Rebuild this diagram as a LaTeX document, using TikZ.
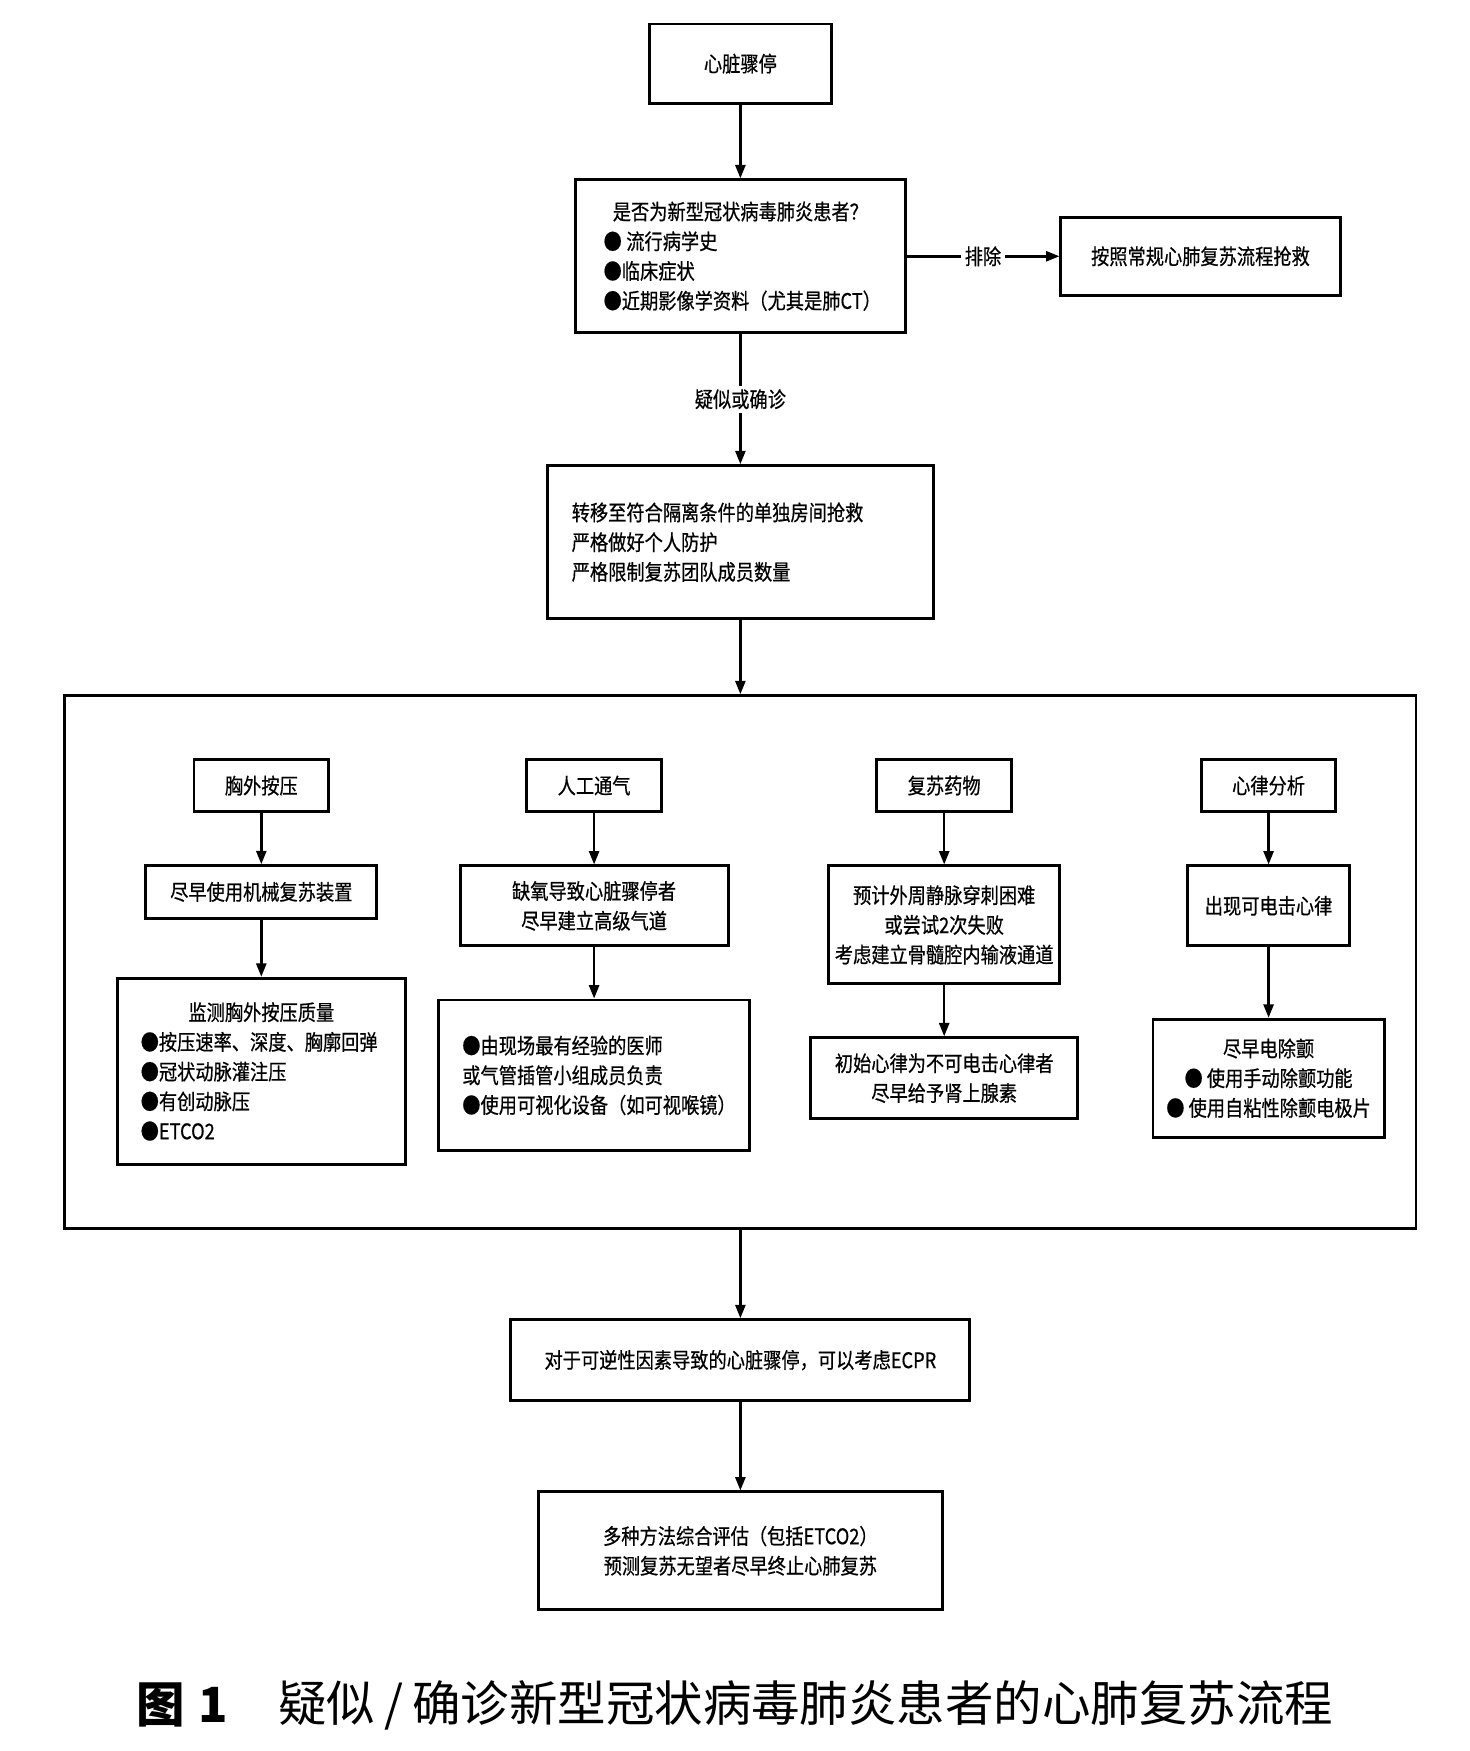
\documentclass[tikz,border=0pt]{standalone}
\usepackage{fontspec}
\newfontfamily\cjk[FakeStretch=0.85,FakeBold=0.6]{Noto Sans CJK SC}
\newfontfamily\cjkcap{Noto Sans CJK SC}
\usetikzlibrary{arrows.meta}
\newcommand\dtext{\cjk\fontsize{9.6}{13.3}\selectfont}
\tikzset{
  box/.style={draw, line width=1.3pt, inner sep=0pt, align=center, font=\dtext},
  lbox/.style={box, align=left},
  arr/.style={line width=1.1pt, -{Triangle[length=6pt,width=4.5pt]}},
  lbl/.style={fill=white, inner sep=1.5pt, font=\dtext},
  captxt/.style={inner sep=0pt, anchor=west, font=\cjkcap\fontsize{21.7}{26}\selectfont},
}
\begin{document}
\begin{tikzpicture}[x=0.5pt,y=-0.5pt]
\useasboundingbox (0,0) rectangle (1316,1568);
% main column
\node[box, minimum width=81.5pt, minimum height=35.5pt] (n1) at (663,57) {心脏骤停};
\node[lbox, text width=122.5pt, inner xsep=12.5pt, minimum height=68.5pt] (n2) at (663,229.5)
  {\makebox[122.5pt][c]{是否为新型冠状病毒肺炎患者？}\\●\hspace{2pt}流行病学史\\●临床症状\\●近期影像学资料（尤其是肺CT）};
\node[box, minimum width=125pt, minimum height=35pt] (n3) at (1075,229.5) {按照常规心肺复苏流程抢救};
\node[lbox, text width=151pt, inner xsep=11pt, minimum height=68.5pt] (n4) at (663,485.5)
  {转移至符合隔离条件的单独房间抢救\\严格做好个人防护\\严格限制复苏团队成员数量};
\node[draw, line width=1.3pt, inner sep=0pt, minimum width=605pt, minimum height=238.5pt] (big) at (663,861.5) {};
% column 1
\node[box, minimum width=60.25pt, minimum height=23.5pt] (c1a) at (234,703.5) {胸外按压};
\node[box, minimum width=103.5pt, minimum height=23.5pt] (c1b) at (234,798.7) {尽早使用机械复苏装置};
\node[lbox, text width=108pt, inner xsep=10.5pt, minimum height=83.5pt] (c1c) at (234,959.5)
  {\makebox[108pt][c]{监测胸外按压质量}\\●按压速率、深度、胸廓回弹\\●冠状动脉灌注压\\●有创动脉压\\●ETCO2};
% column 2
\node[box, minimum width=60.25pt, minimum height=23.5pt] (c2a) at (532,703.5) {人工通气};
\node[box, minimum width=120pt, minimum height=35.8pt] (c2b) at (532,811.2) {缺氧导致心脏骤停者\\尽早建立高级气道};
\node[lbox, text width=118pt, inner xsep=10.75pt, minimum height=67.5pt] (c2c) at (532,963)
  {●由现场最有经验的医师\\或气管插管小组成员负责\\●使用可视化设备（如可视喉镜）};
% column 3
\node[box, minimum width=60.25pt, minimum height=23.5pt] (c3a) at (845.5,703.5) {复苏药物};
\node[box, minimum width=103.5pt, minimum height=52.8pt] (c3b) at (845.5,828.2) {预计外周静脉穿刺困难\\或尝试2次失败\\考虑建立骨髓腔内输液通道};
\node[box, minimum width=119.5pt, minimum height=36.2pt] (c3c) at (845.5,965.5) {初始心律为不可电击心律者\\尽早给予肾上腺素};
% column 4
\node[box, minimum width=60.25pt, minimum height=23.5pt] (c4a) at (1136,703.5) {心律分析};
\node[box, minimum width=72.7pt, minimum height=35.8pt] (c4b) at (1136,811.2) {出现可电击心律};
\node[box, minimum width=103.5pt, minimum height=52.8pt] (c4c) at (1136,965.5) {尽早电除颤\\● 使用手动除颤功能\\● 使用自粘性除颤电极片};
% lower column
\node[box, minimum width=205.5pt, minimum height=36.25pt] (ecpr) at (663,1218) {对于可逆性因素导致的心脏骤停，可以考虑ECPR};
\node[box, minimum width=180.8pt, minimum height=52.7pt] (fin) at (663,1388.7) {多种方法综合评估（包括ETCO2）\\预测复苏无望者尽早终止心肺复苏};
% caption
\node[captxt] (cap1) at (121.7,1527) {\bfseries 图\hspace{6pt}1};
\node[captxt] (cap2) at (249,1527) {疑似\hspace{4pt}/\hspace{4pt}确诊新型冠状病毒肺炎患者的心肺复苏流程};
% connectors
\draw[arr] (n1) -- (n2);
\draw[arr] (n2) -- node[lbl] {排除} (n3);
\draw[arr] (n2) -- node[lbl] {疑似或确诊} (n4);
\draw[arr] (n4) -- (big);
\draw[arr] (c1a) -- (c1b);
\draw[arr] (c1b) -- (c1c);
\draw[arr] (c2a) -- (c2b);
\draw[arr] (c2b) -- (c2c);
\draw[arr] (c3a) -- (c3b);
\draw[arr] (c3b) -- (c3c);
\draw[arr] (c4a) -- (c4b);
\draw[arr] (c4b) -- (c4c);
\draw[arr] (big) -- (ecpr);
\draw[arr] (ecpr) -- (fin);
\end{tikzpicture}
\end{document}
